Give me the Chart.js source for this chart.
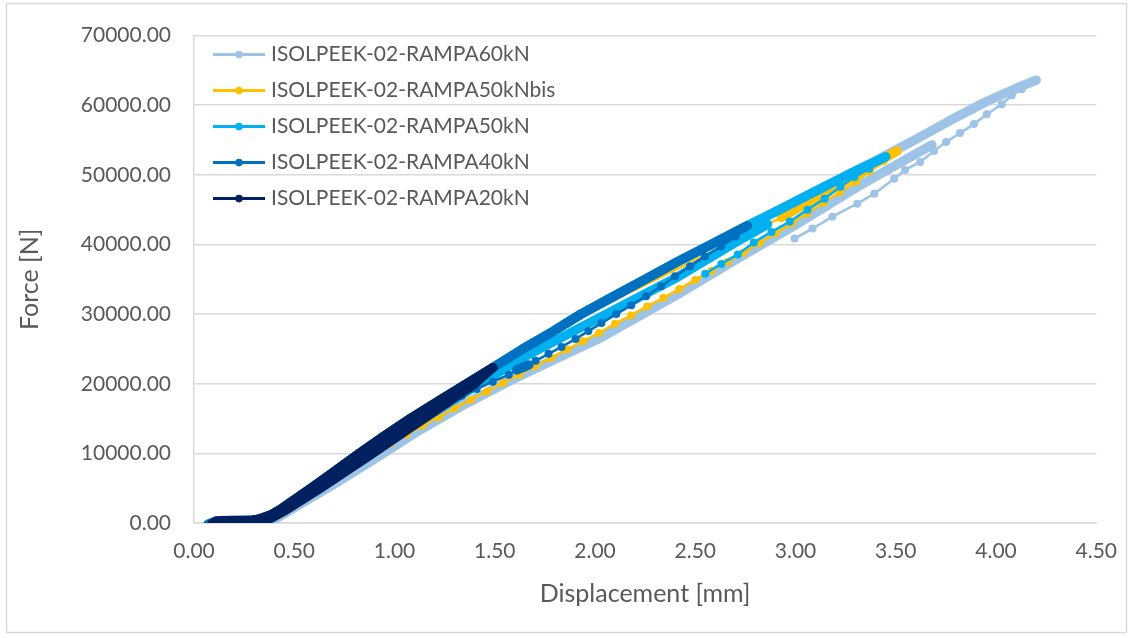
<!DOCTYPE html>
<html>
<head>
<meta charset="utf-8">
<script src="https://cdn.jsdelivr.net/npm/chart.js@4.4.1/dist/chart.umd.min.js"></script>
<style>
  html, body { margin: 0; padding: 0; background: #fff; }
  #wrap { width: 1133px; height: 638px; }
</style>
</head>
<body>
<div id="wrap"><canvas id="chart" width="1133" height="638"></canvas></div>
<script>
// Ramp tests on ISOLPEEK-02: displacement [mm] vs force [N]
const seriesNames = [
  'ISOLPEEK-02-RAMPA60kN',
  'ISOLPEEK-02-RAMPA50kNbis',
  'ISOLPEEK-02-RAMPA50kN',
  'ISOLPEEK-02-RAMPA40kN',
  'ISOLPEEK-02-RAMPA20kN'
];
const seriesColors = ['#9DC3E6', '#FFC000', '#00B0F0', '#0070C0', '#002060'];

const xTicks = [0, 0.5, 1, 1.5, 2, 2.5, 3, 3.5, 4, 4.5];
const yTicks = [0, 10000, 20000, 30000, 40000, 50000, 60000, 70000];

// 60 kN ramp
const ramp60Loading = [[0.07,-200],[0.11,250],[0.14,320],[0.28,350],[0.33,600],[0.38,1100],[0.43,1900],[0.50,3300],
  [0.59,5100],[0.70,7400],[0.82,9900],[0.95,12500],[1.08,15000],[1.22,17500],[1.36,20000],[1.49,22300],[1.64,25000],
  [1.79,27500],[1.93,30000],[2.09,32500],[2.25,35000],[2.41,37500],[2.58,40000],[2.76,42700],[2.92,45000],[3.09,47500],
  [3.26,50000],[3.43,52500],[3.60,55100],[3.77,57800],[3.95,60500],[4.09,62300],[4.20,63600]];
const ramp60Unloading = [[4.20,63600],[4.128,62290],[4.079,61430],[4.029,60140],[3.954,58710],[3.890,57290],[3.820,56000],
  [3.751,54720],[3.691,53430],[3.622,51860],[3.547,50710],[3.492,49430],[3.393,47290],[3.308,45860],[3.184,44000],
  [3.085,42290],[2.995,40860]];
const ramp60Return = [[3.68,54300],[3.31,48300],[3.01,43000],[2.70,37800],[2.41,32800],[2.02,26500],[1.60,20800],
  [1.36,17200],[1.10,12900],[0.90,9200],[0.70,5600],[0.50,2200],[0.40,500],[0.36,0]];

// 50 kN ramp, repeated test
const ramp50bisLoading = [[0.07,-200],[0.11,250],[0.14,320],[0.28,350],[0.33,600],[0.38,1100],[0.43,1900],[0.50,3300],
  [0.59,5100],[0.70,7400],[0.82,9900],[0.95,12500],[1.08,15000],[1.22,17500],[1.36,20000],[1.50,22400]];
const ramp50bisRamp = [[1.50,22400],[1.90,29200],[2.41,36500],[2.93,43900]];
const ramp50bisTop = [[2.93,43900],[3.20,48300],[3.507,53430]];
const ramp50bisUnloading = [[3.507,53430],[3.44,52000],[3.37,50500],[3.30,49000],[3.22,47500],[3.14,46000],[3.06,44500],
  [2.98,43000],[2.90,41600],[2.82,40200],[2.74,38800],[2.66,37500],[2.58,36200],[2.50,34900],[2.42,33600],[2.34,32300],
  [2.26,31100],[2.18,29800],[2.10,28600],[2.02,27300],[1.94,26100],[1.86,24900],[1.78,23700],[1.70,22500],[1.62,21300],
  [1.54,20100],[1.46,18900],[1.38,17700],[1.30,16500],[1.22,15200],[1.14,14000],[1.06,12700],[0.98,11400],[0.90,10000],
  [0.82,8600],[0.74,7100],[0.66,5600],[0.58,4000],[0.50,2500],[0.43,1200],[0.38,400],[0.35,100]];

// 50 kN ramp
const ramp50Loading = [[0.07,-200],[0.11,250],[0.14,320],[0.28,350],[0.33,600],[0.38,1100],[0.43,1900],[0.50,3300],
  [0.59,5100],[0.70,7400],[0.82,9900],[0.95,12500],[1.08,15000],[1.22,17500],[1.36,20000],[1.49,22300],[1.64,25000],
  [1.79,27500],[1.93,30000],[2.09,32500],[2.25,35000],[2.41,37500],[2.58,40000],[2.76,42700],[2.92,45000],[3.09,47500],
  [3.26,50000],[3.45,52600]];
const ramp50Unloading = [[3.45,52600],[3.368,50860],[3.294,49710],[3.224,48290],[3.145,46570],[3.060,45000],[2.971,43290],
  [2.88,41800],[2.792,40290],[2.712,38570],[2.63,37200],[2.55,35800]];
const ramp50Return = [[2.86,42900],[2.70,40300],[2.41,35300],[2.03,29600],[1.65,23900],[1.40,19600],[1.12,14500],
  [0.90,10700],[0.70,6700],[0.50,2800],[0.40,900],[0.36,200]];

// 40 kN ramp
const ramp40Loading = [[0.07,-200],[0.11,250],[0.14,320],[0.28,350],[0.33,600],[0.38,1100],[0.43,1900],[0.50,3300],
  [0.59,5100],[0.70,7400],[0.82,9900],[0.95,12500],[1.08,15000],[1.22,17500],[1.36,20000],[1.49,22300],[1.64,25000],
  [1.79,27500],[1.93,30000],[2.09,32500],[2.25,35000],[2.41,37500],[2.58,40000],[2.76,42700]];
const ramp40Unloading = [[2.76,42700],[2.702,41140],[2.628,39710],[2.548,38290],[2.474,36860],[2.399,35430],[2.330,34000],
  [2.255,32570],[2.181,31290],[2.106,30000],[2.032,28710],[1.967,27570],[1.903,26430],[1.833,25290],[1.768,24290],
  [1.704,23290],[1.644,22290]];
const ramp40Hold = [[1.67,22700],[1.61,22000]];
const ramp40Return = [[1.61,22000],[1.57,21300],[1.49,20300],[1.41,19250],[1.336,18290],[1.262,17140],[1.187,16140],
  [1.11,14900],[1.04,13700],[0.97,12400],[0.90,11100],[0.83,9700],[0.76,8300],[0.69,6900],[0.62,5500],[0.56,4200],
  [0.50,2900],[0.45,1800],[0.40,900],[0.36,300]];

// 20 kN ramp
const ramp20Loading = [[0.09,-100],[0.11,250],[0.14,320],[0.28,350],[0.33,600],[0.38,1100],[0.43,1900],[0.50,3300],
  [0.59,5100],[0.70,7400],[0.82,9900],[0.95,12500],[1.08,15000],[1.22,17500],[1.36,20000],[1.49,22300]];
const ramp20Unloading = [[1.49,22300],[1.40,20000],[1.14,14900],[0.88,9800],[0.62,4800],[0.46,1900],[0.37,500],[0.33,250]];

// each series split into pieces: dense (many overlapping markers), sparse (separate markers), plain line
const seriesPieces = [
  [['dense', ramp60Loading], ['sparse', ramp60Unloading], ['dense', ramp60Return]],
  [['dense', ramp50bisLoading], ['line', ramp50bisRamp], ['dense', ramp50bisTop], ['sparse', ramp50bisUnloading]],
  [['dense', ramp50Loading], ['sparse', ramp50Unloading], ['dense', ramp50Return]],
  [['dense', ramp40Loading], ['sparse', ramp40Unloading], ['dense', ramp40Hold], ['sparse', ramp40Return]],
  [['dense', ramp20Loading], ['dense', ramp20Unloading]]
];

const datasets = [];
seriesPieces.forEach((pieces, s) => {
  pieces.forEach(([kind, pairs]) => {
    const color = seriesColors[s];
    datasets.push({
      label: seriesNames[s],
      data: pairs.map(p => ({ x: p[0], y: p[1] })),
      showLine: true,
      borderColor: color,
      backgroundColor: color,
      borderWidth: kind === 'dense' ? 9.5 : 2.6,
      borderCapStyle: 'round',
      borderJoinStyle: 'round',
      pointRadius: kind === 'sparse' ? 4 : 0,
      pointBorderWidth: 0,
      pointHoverRadius: 0,
      // first series lies at the bottom, last one on top
      order: seriesPieces.length - s
    });
  });
});

const frame = {
  id: 'frame',
  beforeDraw(chart) {
    const ctx = chart.ctx;
    ctx.save();
    ctx.fillStyle = '#ffffff';
    ctx.fillRect(0, 0, chart.width, chart.height);
    ctx.strokeStyle = '#d9d9d9';
    ctx.lineWidth = 1.5;
    ctx.strokeRect(6.5, 3.5, 1120, 629);
    ctx.restore();
  }
};

const legendBox = {
  id: 'legendBox',
  afterDraw(chart) {
    const { ctx, chartArea } = chart;
    ctx.save();
    ctx.font = '21px Lato';
    ctx.textBaseline = 'middle';
    ctx.textAlign = 'left';
    seriesNames.forEach((name, i) => {
      const y = chartArea.top + 19 + i * 36;
      const x0 = chartArea.left + 19;
      ctx.strokeStyle = seriesColors[i];
      ctx.lineWidth = 3;
      ctx.beginPath();
      ctx.moveTo(x0, y);
      ctx.lineTo(x0 + 52, y);
      ctx.stroke();
      ctx.fillStyle = seriesColors[i];
      ctx.beginPath();
      ctx.arc(x0 + 26, y, 3.8, 0, Math.PI * 2);
      ctx.fill();
      ctx.fillStyle = '#595959';
      ctx.fillText(name, x0 + 58, y);
    });
    ctx.restore();
  }
};

new Chart(document.getElementById('chart'), {
  type: 'scatter',
  data: { datasets: datasets },
  options: {
    responsive: false,
    animation: false,
    devicePixelRatio: 1,
    events: [],
    layout: { padding: { left: 0, right: 33, top: 33, bottom: 0 } },
    plugins: {
      legend: { display: false },
      tooltip: { enabled: false }
    },
    scales: {
      x: {
        type: 'linear',
        min: 0,
        max: 4.5,
        afterFit: s => { s.height = 115; },
        afterBuildTicks: s => { s.ticks = xTicks.map(v => ({ value: v })); },
        ticks: {
          color: '#595959',
          font: { family: 'Lato', size: 21 },
          padding: 16,
          callback: v => Number(v).toFixed(2)
        },
        grid: { display: false, drawTicks: false },
        border: { display: true, color: '#d9d9d9', width: 1.5 },
        title: {
          display: true,
          text: 'Displacement [mm]',
          color: '#595959',
          font: { family: 'Lato', size: 25 },
          padding: { top: 0, bottom: 29 }
        }
      },
      y: {
        type: 'linear',
        min: 0,
        max: 70000,
        afterFit: s => { s.width = 194; },
        afterBuildTicks: s => { s.ticks = yTicks.map(v => ({ value: v })); },
        ticks: {
          color: '#595959',
          font: { family: 'Lato', size: 21 },
          padding: 23,
          callback: v => Number(v).toFixed(2)
        },
        grid: { color: '#d9d9d9', lineWidth: 1.5, drawTicks: false },
        border: { display: true, color: '#d9d9d9', width: 1.5 },
        title: {
          display: true,
          text: 'Force [N]',
          color: '#595959',
          font: { family: 'Lato', size: 25 },
          padding: { top: 15, bottom: 0 }
        }
      }
    }
  },
  plugins: [frame, legendBox]
});
</script>
</body>
</html>
